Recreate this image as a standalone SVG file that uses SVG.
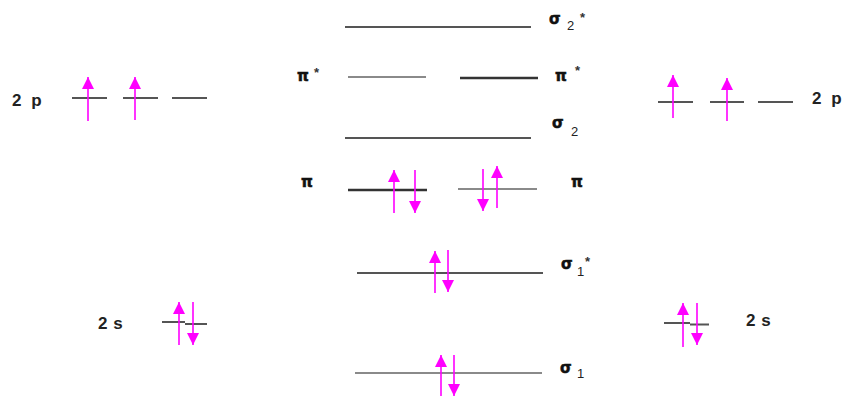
<svg xmlns="http://www.w3.org/2000/svg" width="844" height="396" viewBox="0 0 844 396">
<defs>
<style>
.lv{stroke:#555;stroke-width:2;fill:none}
.lt{stroke:#8a8a8a;stroke-width:2;fill:none}
.dk{stroke:#333;stroke-width:2.5;fill:none}
.e{stroke:#ff00ff;stroke-width:1.6;fill:none}
.up{marker-end:url(#head)}
.lbl{font-family:"Liberation Sans",Arial,sans-serif;font-weight:bold;font-size:17px;fill:#222}
.gr{font-family:"DejaVu Sans",sans-serif;font-weight:bold;font-size:15px;fill:#111;stroke:#111;stroke-width:0.5}
.sub{font-family:"Liberation Sans",Arial,sans-serif;font-size:13px;fill:#222}
.st{font-family:"Liberation Sans",Arial,sans-serif;font-weight:bold;font-size:13px;fill:#333}
</style>
<marker id="head" viewBox="0 0 12 12" markerWidth="12" markerHeight="12" markerUnits="userSpaceOnUse" refX="12" refY="6" orient="auto">
<path d="M0,0 L12,6 L0,12 z" fill="#ff00ff"/>
</marker>
</defs>
<rect width="844" height="396" fill="#fff"/>

<g id="left-2p">
<text class="lbl" x="12" y="106" word-spacing="5">2 p</text>
<line class="lv" x1="72" y1="98" x2="107" y2="98"/>
<line class="lv" x1="123" y1="98" x2="158" y2="98"/>
<line class="lv" x1="172" y1="98" x2="207" y2="98"/>
<line class="e up" x1="88" y1="121" x2="88" y2="77"/>
<line class="e up" x1="135" y1="120" x2="135" y2="77"/>
</g>

<g id="right-2p">
<line class="lv" x1="658" y1="102" x2="693" y2="102"/>
<line class="lv" x1="710" y1="102" x2="744" y2="102"/>
<line class="lv" x1="758" y1="102" x2="793" y2="102"/>
<line class="e up" x1="673" y1="118" x2="673" y2="75"/>
<line class="e up" x1="727" y1="121" x2="727" y2="78"/>
<text class="lbl" x="812" y="104" word-spacing="5">2 p</text>
</g>

<g id="sigma2star">
<line class="lv" x1="345" y1="27" x2="531" y2="27"/>
<text class="gr" x="549" y="24">σ</text>
<text class="sub" x="567" y="30">2</text>
<text class="st" x="580" y="22">*</text>
</g>

<g id="pistar">
<text class="gr" x="297" y="81">π</text>
<text class="st" x="314" y="77">*</text>
<line class="lt" x1="348" y1="77" x2="426" y2="77"/>
<line class="dk" x1="460" y1="78" x2="538" y2="78"/>
<text class="gr" x="555" y="81">π</text>
<text class="st" x="575" y="75">*</text>
</g>

<g id="sigma2">
<line class="lv" x1="345" y1="138" x2="531" y2="138"/>
<text class="gr" x="552" y="128">σ</text>
<text class="sub" x="571" y="136">2</text>
</g>

<g id="pi">
<text class="gr" x="301" y="187">π</text>
<line class="dk" x1="348" y1="190" x2="427" y2="190"/>
<line class="e up" x1="394" y1="213" x2="394" y2="170"/>
<line class="e up" x1="415" y1="170" x2="415" y2="213"/>
<line class="lt" x1="458" y1="189" x2="537" y2="189"/>
<line class="e up" x1="483" y1="169" x2="483" y2="211"/>
<line class="e up" x1="497" y1="208" x2="497" y2="166"/>
<text class="gr" x="571" y="187">π</text>
</g>

<g id="sigma1star">
<line class="lv" x1="357" y1="273" x2="543" y2="273"/>
<line class="e up" x1="435" y1="293" x2="435" y2="251"/>
<line class="e up" x1="448" y1="250" x2="448" y2="292"/>
<text class="gr" x="561" y="269">σ</text>
<text class="sub" x="577" y="276">1</text>
<text class="st" x="585" y="266">*</text>
</g>

<g id="sigma1">
<line class="lt" x1="355" y1="373" x2="542" y2="373"/>
<line class="e up" x1="441" y1="400" x2="441" y2="355"/>
<line class="e up" x1="454" y1="355" x2="454" y2="396"/>
<text class="gr" x="560" y="373">σ</text>
<text class="sub" x="577" y="378">1</text>
</g>

<g id="left-2s">
<text class="lbl" x="98" y="329" word-spacing="1">2 s</text>
<path class="lv" d="M162,322 H185 M185,324 H207"/>
<line class="e up" x1="179" y1="345" x2="179" y2="302"/>
<line class="e up" x1="193" y1="302" x2="193" y2="345"/>
</g>

<g id="right-2s">
<path class="lv" d="M664,323 H690 M690,324.5 H709"/>
<line class="e up" x1="683" y1="347" x2="683" y2="303"/>
<line class="e up" x1="697" y1="303" x2="697" y2="345"/>
<text class="lbl" x="746" y="326" word-spacing="1">2 s</text>
</g>
</svg>
